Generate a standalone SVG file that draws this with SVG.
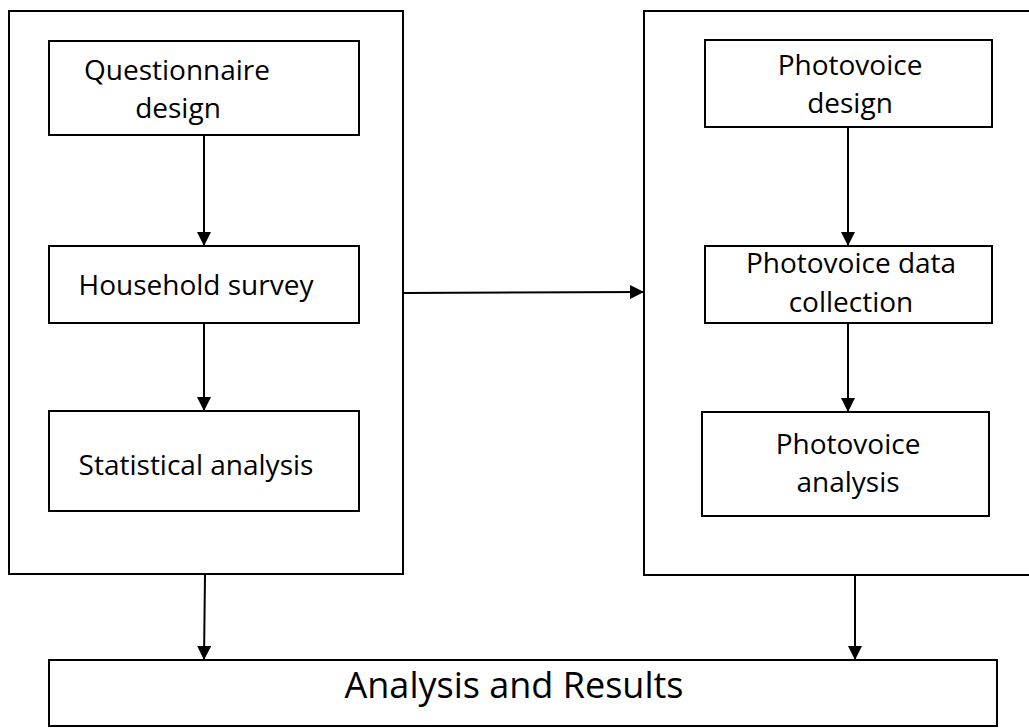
<svg xmlns="http://www.w3.org/2000/svg" width="1029" height="728" viewBox="0 0 1029 728">
<style>
.box{fill:#fff;stroke:#000;stroke-width:2}
.t{font-family:"Open Sans","Liberation Sans",sans-serif;font-size:28px;fill:#000;text-anchor:middle}
.big{font-size:36px}
.c{stroke:#000;stroke-width:2;fill:none}
</style>
<defs>
<marker id="ah" markerWidth="14" markerHeight="14" refX="13" refY="7" orient="auto" markerUnits="userSpaceOnUse">
<path d="M0,0 L14,7 L0,14 Z" fill="#000"/>
</marker>
</defs>
<g id="left-group"><rect class="box" x="9" y="11" width="394" height="563"/></g>
<g id="right-group"><rect class="box" x="644" y="11" width="400" height="564"/></g>
<g id="questionnaire"><rect class="box" x="49" y="41" width="310" height="94"/>
<text class="t" x="177" y="80">Questionnaire</text><text class="t" x="178" y="118">design</text></g>
<g id="household"><rect class="box" x="49" y="246" width="310" height="77"/>
<text class="t" x="196" y="295">Household survey</text></g>
<g id="statistical"><rect class="box" x="49" y="411" width="310" height="100"/>
<text class="t" x="196" y="475">Statistical analysis</text></g>
<g id="pv-design"><rect class="box" x="705" y="40" width="287" height="87"/>
<text class="t" x="850" y="75">Photovoice</text><text class="t" x="850" y="113">design</text></g>
<g id="pv-collection"><rect class="box" x="705" y="246" width="287" height="77"/>
<text class="t" x="851" y="273">Photovoice data</text><text class="t" x="851" y="312">collection</text></g>
<g id="pv-analysis"><rect class="box" x="702" y="412" width="287" height="104"/>
<text class="t" x="848" y="454">Photovoice</text><text class="t" x="848" y="492">analysis</text></g>
<g id="results"><rect class="box" x="49" y="660" width="948" height="66"/>
<text class="t big" x="514" y="698">Analysis and Results</text></g>
<g id="connectors">
<line class="c" x1="204" y1="135" x2="204" y2="245" marker-end="url(#ah)"/>
<line class="c" x1="204" y1="323" x2="204" y2="410" marker-end="url(#ah)"/>
<line class="c" x1="848" y1="127" x2="848" y2="245" marker-end="url(#ah)"/>
<line class="c" x1="848" y1="323" x2="848" y2="411" marker-end="url(#ah)"/>
<line class="c" x1="403" y1="293" x2="643" y2="292" marker-end="url(#ah)"/>
<line class="c" x1="205" y1="575" x2="204" y2="659" marker-end="url(#ah)"/>
<line class="c" x1="855" y1="575" x2="855" y2="659" marker-end="url(#ah)"/>
</g>
</svg>
